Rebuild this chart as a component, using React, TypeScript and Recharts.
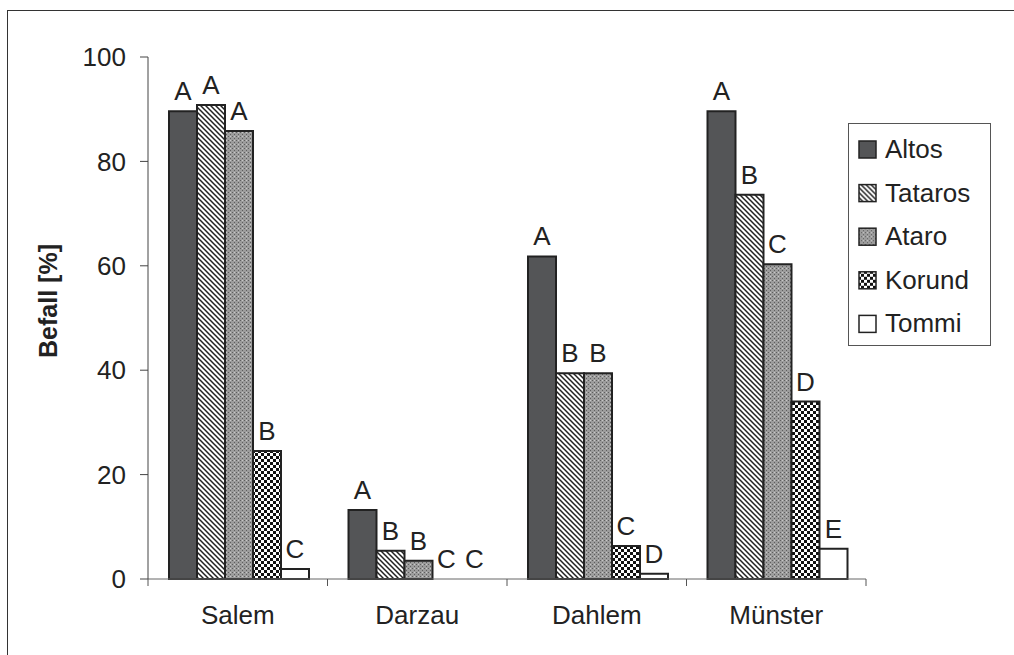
import React from "react";
import { Bar, BarChart, Rectangle, XAxis, YAxis } from "recharts";

const categories = ["Salem", "Darzau", "Dahlem", "Münster"];
const altos = [89.6, 13.2, 61.8, 89.6];
const tataros = [90.8, 5.4, 39.4, 73.6];
const ataro = [85.8, 3.5, 39.4, 60.3];
const korund = [24.5, 0, 6.3, 34.0];
const tommi = [1.9, 0, 1.0, 5.8];

const altosLetters = ["A", "A", "A", "A"];
const tatarosLetters = ["A", "B", "B", "B"];
const ataroLetters = ["A", "B", "B", "C"];
const korundLetters = ["B", "C", "C", "D"];
const tommiLetters = ["C", "C", "D", "E"];

const yTicks = [0, 20, 40, 60, 80, 100];

const series = [
  { key: "Altos", values: altos, letters: altosLetters, fill: "url(#p-altos)" },
  { key: "Tataros", values: tataros, letters: tatarosLetters, fill: "url(#p-tataros)" },
  { key: "Ataro", values: ataro, letters: ataroLetters, fill: "url(#p-ataro)" },
  { key: "Korund", values: korund, letters: korundLetters, fill: "url(#p-korund)" },
  { key: "Tommi", values: tommi, letters: tommiLetters, fill: "#ffffff" }
];

const data = categories.map((name, i) => {
  const row: Record<string, string | number> = { name };
  series.forEach((s) => {
    row[s.key] = s.values[i];
    row[s.key + "_letter"] = s.letters[i];
  });
  return row;
});

const W = 1014;
const H = 655;
const FONT = "'Liberation Sans', Arial, sans-serif";
const INK = "#222";
const margin = { top: 57, right: 148, bottom: 16, left: 68 };
const Y_W = 80;
const PLOT_W = W - margin.left - Y_W - margin.right;
const HALF_BAND = PLOT_W / categories.length / 2;

function CategoryTick(props: any) {
  const { x, y, payload, index } = props;
  return (
    <g>
      {index === 0 && <line x1={x - HALF_BAND} x2={x - HALF_BAND} y1={y} y2={y + 7} stroke="#555" />}
      <line x1={x + HALF_BAND} x2={x + HALF_BAND} y1={y} y2={y + 7} stroke="#555" />
      <text x={x} y={y + 45} textAnchor="middle" fontSize={26} fill={INK} fontFamily={FONT}>
        {payload.value}
      </text>
    </g>
  );
}

function makeShape(key: string) {
  return (props: any) => {
    const { x, y, width, height, payload } = props;
    return (
      <g>
        {height > 0 && <Rectangle {...props} />}
        <text x={x + width / 2} y={y - 11} textAnchor="middle" fontSize={26} fill={INK} fontFamily={FONT}>
          {payload[key + "_letter"]}
        </text>
      </g>
    );
  };
}

function LegendBox() {
  return (
    <div
      style={{
        position: "absolute",
        left: 848,
        top: 123,
        width: 141,
        height: 221,
        border: "1px solid #555",
        background: "#fff"
      }}
    >
      <svg width={141} height={221} style={{ display: "block" }}>
        {series.map((s) => (
          <g key={s.key} transform={`translate(0, ${25 + series.indexOf(s) * 43.6})`}>
            <rect x={10} y={-8} width={17} height={17} fill={s.fill} stroke={INK} strokeWidth={1.5} />
            <text x={36} y={9} fontSize={26} fill={INK} fontFamily={FONT}>
              {s.key}
            </text>
          </g>
        ))}
      </svg>
    </div>
  );
}

export default function App() {
  return (
    <div style={{ position: "absolute", left: 0, top: 0, width: W, height: H, background: "#fff", overflow: "hidden" }}>
      <div
        style={{
          position: "absolute",
          left: 7,
          top: 10,
          width: W + 20,
          height: H + 20,
          border: "1px solid #333"
        }}
      />
      <BarChart
        width={W}
        height={H}
        data={data}
        margin={margin}
        barCategoryGap={21}
        barGap={0}
        style={{ fontFamily: FONT }}
      >
        <defs>
          <pattern id="p-altos" patternUnits="userSpaceOnUse" width={4} height={4}>
            <rect width={4} height={4} fill="#545557" />
          </pattern>
          <pattern id="p-tataros" patternUnits="userSpaceOnUse" width={5} height={5}>
            <rect width={5} height={5} fill="#fff" />
            <path d="M-1,-1 L6,6 M-1,4 L1,6 M4,-1 L6,1" stroke="#222" strokeWidth={1.5} />
          </pattern>
          <pattern id="p-ataro" patternUnits="userSpaceOnUse" width={4} height={4}>
            <rect width={4} height={4} fill="#9c9c9c" />
            <rect x={0} y={0} width={1} height={1} fill="#5e5e5e" />
            <rect x={2} y={2} width={1} height={1} fill="#5e5e5e" />
            <rect x={2} y={0} width={1} height={1} fill="#c8c8c8" />
          </pattern>
          <pattern id="p-korund" patternUnits="userSpaceOnUse" width={6} height={6}>
            <rect width={6} height={6} fill="#fff" />
            <rect x={0} y={0} width={3} height={3} fill="#111" />
            <rect x={3} y={3} width={3} height={3} fill="#111" />
          </pattern>
        </defs>
        <XAxis
          dataKey="name"
          height={60}
          tickLine={false}
          tickSize={0}
          tickMargin={0}
          axisLine={{ stroke: "#666" }}
          tick={<CategoryTick />}
          interval={0}
        />
        <YAxis
          width={Y_W}
          domain={[0, 100]}
          ticks={yTicks}
          tickSize={8}
          tickMargin={14}
          axisLine={{ stroke: "#444" }}
          tickLine={{ stroke: "#444" }}
          tick={{ fontSize: 26, fill: INK, fontFamily: FONT }}
          label={{
            value: "Befall [%]",
            angle: -90,
            position: "insideLeft",
            offset: -20,
            dy: -17,
            style: { fontSize: 25, fontWeight: "bold", fill: INK, fontFamily: FONT, textAnchor: "middle" }
          }}
        />
        {series.map((s) => (
          <Bar
            key={s.key}
            dataKey={s.key}
            fill={s.fill}
            stroke={INK}
            strokeWidth={2}
            isAnimationActive={false}
            shape={makeShape(s.key)}
          />
        ))}
      </BarChart>
      <LegendBox />
    </div>
  );
}
